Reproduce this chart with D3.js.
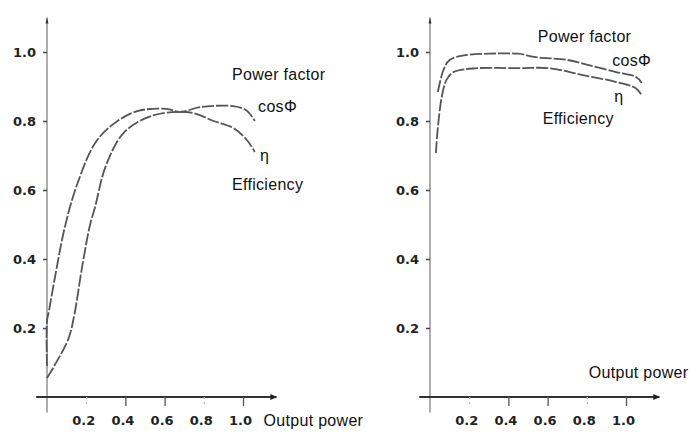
<!DOCTYPE html>
<html>
<head>
<meta charset="utf-8">
<script src="https://cdn.jsdelivr.net/npm/d3@7"></script>
<style>
  body { margin: 0; background: #fff; }
  svg { display: block; }
  .tick text { font-family: "DejaVu Sans", Verdana, sans-serif; font-weight: bold; font-size: 13px; fill: #222; }
  .lbl { font-family: "Liberation Sans", Arial, sans-serif; font-size: 16px; letter-spacing: 0.3px; fill: #111; }
</style>
</head>
<body>
<div id="chart"></div>
<script>
// tick values shared by both panels
const yTicks = [0.2, 0.4, 0.6, 0.8, 1.0];
const xTicks = [0.2, 0.4, 0.6, 0.8, 1.0];

// left panel
const leftCosX = [0, 0, 0.01, 0.04, 0.09, 0.15, 0.25, 0.36, 0.47, 0.61, 0.68, 0.78, 0.95, 1.02, 1.06];
const leftCosY = [0.09, 0.22, 0.25, 0.345, 0.49, 0.61, 0.74, 0.80, 0.83, 0.835, 0.826, 0.84, 0.843, 0.83, 0.80];
const leftEffX = [0, 0.04, 0.11, 0.14, 0.18, 0.22, 0.245, 0.30, 0.39, 0.51, 0.64, 0.745, 0.85, 0.95, 1.02, 1.06];
const leftEffY = [0.055, 0.093, 0.17, 0.24, 0.38, 0.50, 0.55, 0.67, 0.765, 0.81, 0.826, 0.823, 0.80, 0.78, 0.745, 0.71];

// right panel
const rightCosX = [0.04, 0.07, 0.10, 0.17, 0.3, 0.45, 0.54, 0.70, 0.81, 0.95, 1.05, 1.08];
const rightCosY = [0.884, 0.95, 0.977, 0.99, 0.995, 0.995, 0.985, 0.977, 0.962, 0.942, 0.928, 0.91];
const rightEffX = [0.03, 0.04, 0.06, 0.085, 0.12, 0.24, 0.45, 0.61, 0.78, 0.95, 1.05, 1.08];
const rightEffY = [0.707, 0.78, 0.87, 0.92, 0.942, 0.953, 0.953, 0.953, 0.933, 0.913, 0.895, 0.875];

const svg = d3.select("#chart").append("svg")
  .attr("width", 700)
  .attr("height", 435);

function zip(xs, ys) { return xs.map((v, i) => ({ x: v, y: ys[i] })); }

function panel(ox, series, labels) {
  const x = d3.scaleLinear().domain([0, 1]).range([ox, ox + 196]);
  const y = d3.scaleLinear().domain([0, 1]).range([397, 52]);
  const g = svg.append("g");

  // y axis line with arrow tip
  g.append("line")
    .attr("x1", x(0)).attr("x2", x(0))
    .attr("y1", y(-0.045)).attr("y2", y(1.1))
    .attr("stroke", "#777").attr("stroke-width", 1.2);
  g.append("path")
    .attr("d", `M${x(0) - 1.5},${y(1.1) + 6} L${x(0)},${y(1.1)} L${x(0) + 1.5},${y(1.1) + 6}Z`)
    .attr("fill", "#333");

  const ya = g.append("g")
    .attr("transform", `translate(${x(0)},0)`)
    .call(d3.axisLeft(y).tickValues(yTicks).tickSize(4).tickPadding(7).tickFormat(d3.format(".1f")));
  ya.select(".domain").remove();
  ya.selectAll(".tick line").attr("stroke", "#444").attr("stroke-width", 1.5);

  // x axis
  g.append("line")
    .attr("x1", x(-0.055)).attr("x2", x(1.17))
    .attr("y1", y(0)).attr("y2", y(0))
    .attr("stroke", "#333").attr("stroke-width", 2);
  g.append("path")
    .attr("d", `M${x(1.17) - 6},${y(0) - 3} L${x(1.17) + 1},${y(0)} L${x(1.17) - 6},${y(0) + 3}Z`)
    .attr("fill", "#222");

  const xa = g.append("g")
    .attr("transform", `translate(0,${y(0)})`)
    .call(d3.axisBottom(x).tickValues(xTicks).tickSize(9).tickPadding(10).tickFormat(d3.format(".1f")));
  xa.select(".domain").remove();
  xa.selectAll(".tick line")
    .attr("stroke", (d, i) => (i === 0 || i === 3) ? "#bbb" : "#555")
    .attr("stroke-dasharray", (d, i) => (i === 0 || i === 3) ? "2 3" : null)
    .attr("stroke-width", 1.3);
  xa.selectAll(".tick text").attr("dx", "-3");

  const line = d3.line()
    .x(d => x(d.x)).y(d => y(d.y))
    .curve(d3.curveCatmullRom.alpha(0.5));

  series.forEach(s => {
    g.append("path")
      .attr("d", line(s))
      .attr("fill", "none")
      .attr("stroke", "#555")
      .attr("stroke-width", 1.8)
      .attr("stroke-dasharray", "12 2");
  });

  labels.forEach(l => {
    g.append("text").attr("class", "lbl")
      .attr("x", x(l.x)).attr("y", y(l.y))
      .text(l.t);
  });
}

panel(47, [zip(leftCosX, leftCosY), zip(leftEffX, leftEffY)], [
  { t: "Power factor", x: 0.944, y: 0.92 },
  { t: "cosΦ", x: 1.077, y: 0.825 },
  { t: "η", x: 1.087, y: 0.685 },
  { t: "Efficiency", x: 0.944, y: 0.60 },
  { t: "Output power", x: 1.105, y: -0.085 }
]);

panel(430, [zip(rightCosX, rightCosY), zip(rightEffX, rightEffY)], [
  { t: "Power factor", x: 0.55, y: 1.028 },
  { t: "cosΦ", x: 0.93, y: 0.96 },
  { t: "η", x: 0.94, y: 0.855 },
  { t: "Efficiency", x: 0.575, y: 0.79 },
  { t: "Output power", x: 0.81, y: 0.055 }
]);
</script>
</body>
</html>
